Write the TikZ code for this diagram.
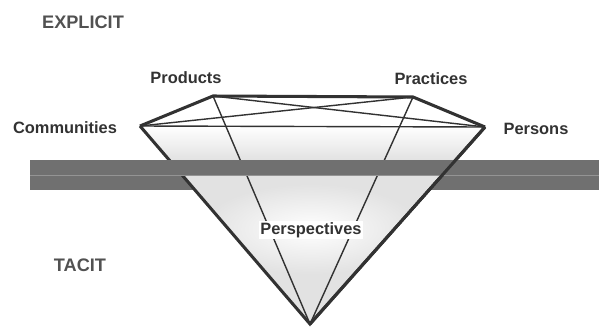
\documentclass[tikz,border=0pt]{standalone}
\usepackage{fontspec}
\setmainfont{Liberation Sans}
\usetikzlibrary{positioning}
\definecolor{bandgray}{RGB}{112,112,112}
\definecolor{edgegray}{RGB}{50,50,50}
\definecolor{diafill}{RGB}{226,226,226}

\begin{document}
\begin{tikzpicture}[
    x=0.03cm,y=-0.03cm,
    lbl/.style={font=\bfseries\fontsize{14}{16}\selectfont,text=edgegray,inner sep=1pt},
    zone/.style={font=\bfseries\fontsize{15.5}{18}\selectfont,text=edgegray!85},
    rim/.style={draw=edgegray,line width=2.6pt,line join=miter},
    facet/.style={draw=edgegray,line width=1.2pt}
  ]
    \useasboundingbox (0,0) rectangle (599,327);
    \coordinate (comm) at (140,126);
    \coordinate (prod) at (213,96);
    \coordinate (prac) at (413,97);
    \coordinate (pers) at (485,127);
    \coordinate (apex) at (310,324);

    % lower strip of the band sits behind the diamond
    \fill[bandgray] (30,176) rectangle (599,190);
    \fill[diafill] (comm) -- (pers) -- (apex) -- cycle;
    \begin{scope}
      \clip (comm) -- (pers) -- (apex) -- cycle;
      \shade[top color=white,bottom color=diafill] (100,126) rectangle (520,160);
      \shade[inner color=white,outer color=diafill] (311,229) ellipse (110 and 45);
    \end{scope}

    \draw[facet] (comm) -- (pers);
    \draw[facet] (comm) -- (prac);
    \draw[facet] (prod) -- (pers);
    \draw[facet] (prod) -- (apex);
    \draw[facet] (prac) -- (apex);
    \draw[rim] (comm) -- (prod) -- (prac) -- (pers);
    \draw[rim] (pers) -- (apex) -- (comm);

    % upper strip of the band passes in front
    \fill[bandgray] (30,160) rectangle (599,176);
    \draw[bandgray!75!white,line width=0.4pt] (30,175.5) -- (599,175.5);
    \draw[rim] (pers) -- (apex);

    \node[zone] (explicit) at (83,22) {EXPLICIT};
    \node[zone] (tacit) at (80,265) {TACIT};
    \node[lbl] (products) at (186,78) {Products};
    \node[lbl] (practices) at (431,79) {Practices};
    \node[lbl] (communities) at (65,128) {Communities};
    \node[lbl] (persons) at (536,129) {Persons};
    \node[lbl,fill=white] (persp) at (311,230) {Perspectives};
  \end{tikzpicture}
\end{document}
